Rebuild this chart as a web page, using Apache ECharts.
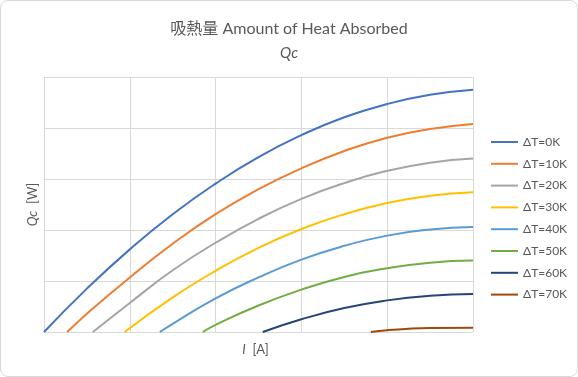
<!DOCTYPE html>
<html>
<head>
<meta charset="utf-8">
<script src="https://cdn.jsdelivr.net/npm/echarts@6/dist/echarts.min.js"></script>
<style>
html, body { margin: 0; padding: 0; background: #fff; }
#box { width: 578px; height: 377px; box-sizing: border-box; border: 1px solid #d9d9d9; border-radius: 8px; overflow: hidden; }
#chart { width: 576px; height: 375px; }
</style>
</head>
<body>
<div id="box"><div id="chart"></div></div>
<script>
var seriesNames = ['ΔT=0K', 'ΔT=10K', 'ΔT=20K', 'ΔT=30K', 'ΔT=40K', 'ΔT=50K', 'ΔT=60K', 'ΔT=70K'];
var lineColors = ['#4472C4', '#ED7D31', '#A5A5A5', '#FFC000', '#5B9BD5', '#70AD47', '#264478', '#9E480E'];

// [I, Qc] (axis units: 0..5 each way, no tick labels shown)
var dt0 = [[0, 0], [0.5, 0.85], [1, 1.62], [1.5, 2.31], [2, 2.91], [2.5, 3.43], [3, 3.86], [3.5, 4.21], [4, 4.47], [4.5, 4.65], [5, 4.75]];
var dt10 = [[0.27, 0], [0.5, 0.36], [1, 1.07], [1.5, 1.73], [2, 2.31], [2.5, 2.8], [3, 3.21], [3.5, 3.55], [4, 3.81], [4.5, 3.98], [5, 4.08]];
var dt20 = [[0.57, 0], [1, 0.57], [1.5, 1.21], [2, 1.75], [2.5, 2.22], [3, 2.61], [3.5, 2.92], [4, 3.16], [4.5, 3.32], [5, 3.4]];
var dt30 = [[0.94, 0], [1.5, 0.68], [2, 1.2], [2.5, 1.65], [3, 2.02], [3.5, 2.31], [4, 2.53], [4.5, 2.67], [5, 2.74]];
var dt40 = [[1.35, 0], [1.5, 0.16], [2, 0.66], [2.5, 1.07], [3, 1.42], [3.5, 1.69], [4, 1.89], [4.5, 2.01], [5, 2.06]];
var dt50 = [[1.85, 0], [2, 0.14], [2.5, 0.52], [3, 0.83], [3.5, 1.08], [4, 1.25], [4.5, 1.36], [5, 1.4]];
var dt60 = [[2.55, 0], [3, 0.25], [3.5, 0.47], [4, 0.62], [4.5, 0.71], [5, 0.745]];
var dt70 = [[3.81, 0], [4, 0.035], [4.25, 0.065], [4.5, 0.08], [5, 0.085]];
var allData = [dt0, dt10, dt20, dt30, dt40, dt50, dt60, dt70];

var fontList = 'Lato, "Noto Sans CJK JP", sans-serif';
var textGray = '#595959';

var chart = echarts.init(document.getElementById('chart'));

var seriesList = [];
for (var i = 0; i < allData.length; i++) {
	seriesList.push({
		name : seriesNames[i],
		type : 'line',
		data : allData[i],
		smooth : true,
		symbol : 'none',
		lineStyle : { width : 2, color : lineColors[i] },
		itemStyle : { color : lineColors[i] }
	});
}

var option = {
	animation : false,
	title : [{
		text : '吸熱量 Amount of Heat Absorbed',
		left : 'center',
		top : 15,
		textStyle : { fontFamily : fontList, fontSize : 16, fontWeight : 'normal', color : textGray }
	}, {
		text : 'Qc',
		left : 'center',
		top : 40,
		textStyle : { fontFamily : fontList, fontSize : 15, fontWeight : 'normal', fontStyle : 'italic', color : textGray }
	}],
	legend : {
		orient : 'vertical',
		left : 485,
		top : 130,
		icon : 'rect',
		itemWidth : 27,
		itemHeight : 2,
		itemGap : 9.8,
		data : seriesNames,
		textStyle : { fontFamily : fontList, fontSize : 12, color : textGray }
	},
	grid : { left : 43, right : 104, top : 76, bottom : 44 },
	xAxis : {
		type : 'value',
		min : 0,
		max : 5,
		interval : 1,
		name : '{i|I}  [A]',
		nameLocation : 'middle',
		nameGap : 11,
		nameTextStyle : {
			fontFamily : fontList, fontSize : 13, color : textGray,
			padding : [0, 6, 0, 0],
			rich : { i : { fontFamily : fontList, fontSize : 13, color : textGray, fontStyle : 'italic' } }
		},
		axisLine : { show : false },
		axisTick : { show : false },
		axisLabel : { show : false },
		splitLine : { show : true, lineStyle : { color : '#d9d9d9', width : 1 } }
	},
	yAxis : {
		type : 'value',
		min : 0,
		max : 5,
		interval : 1,
		name : '{i|Qc}  [W]',
		nameLocation : 'middle',
		nameGap : 5,
		nameTextStyle : {
			fontFamily : fontList, fontSize : 13, color : textGray,
			rich : { i : { fontFamily : fontList, fontSize : 13, color : textGray, fontStyle : 'italic' } }
		},
		axisLine : { show : false },
		axisTick : { show : false },
		axisLabel : { show : false },
		splitLine : { show : true, lineStyle : { color : '#d9d9d9', width : 1 } }
	},
	series : seriesList
};
chart.setOption(option);
</script>
</body>
</html>
